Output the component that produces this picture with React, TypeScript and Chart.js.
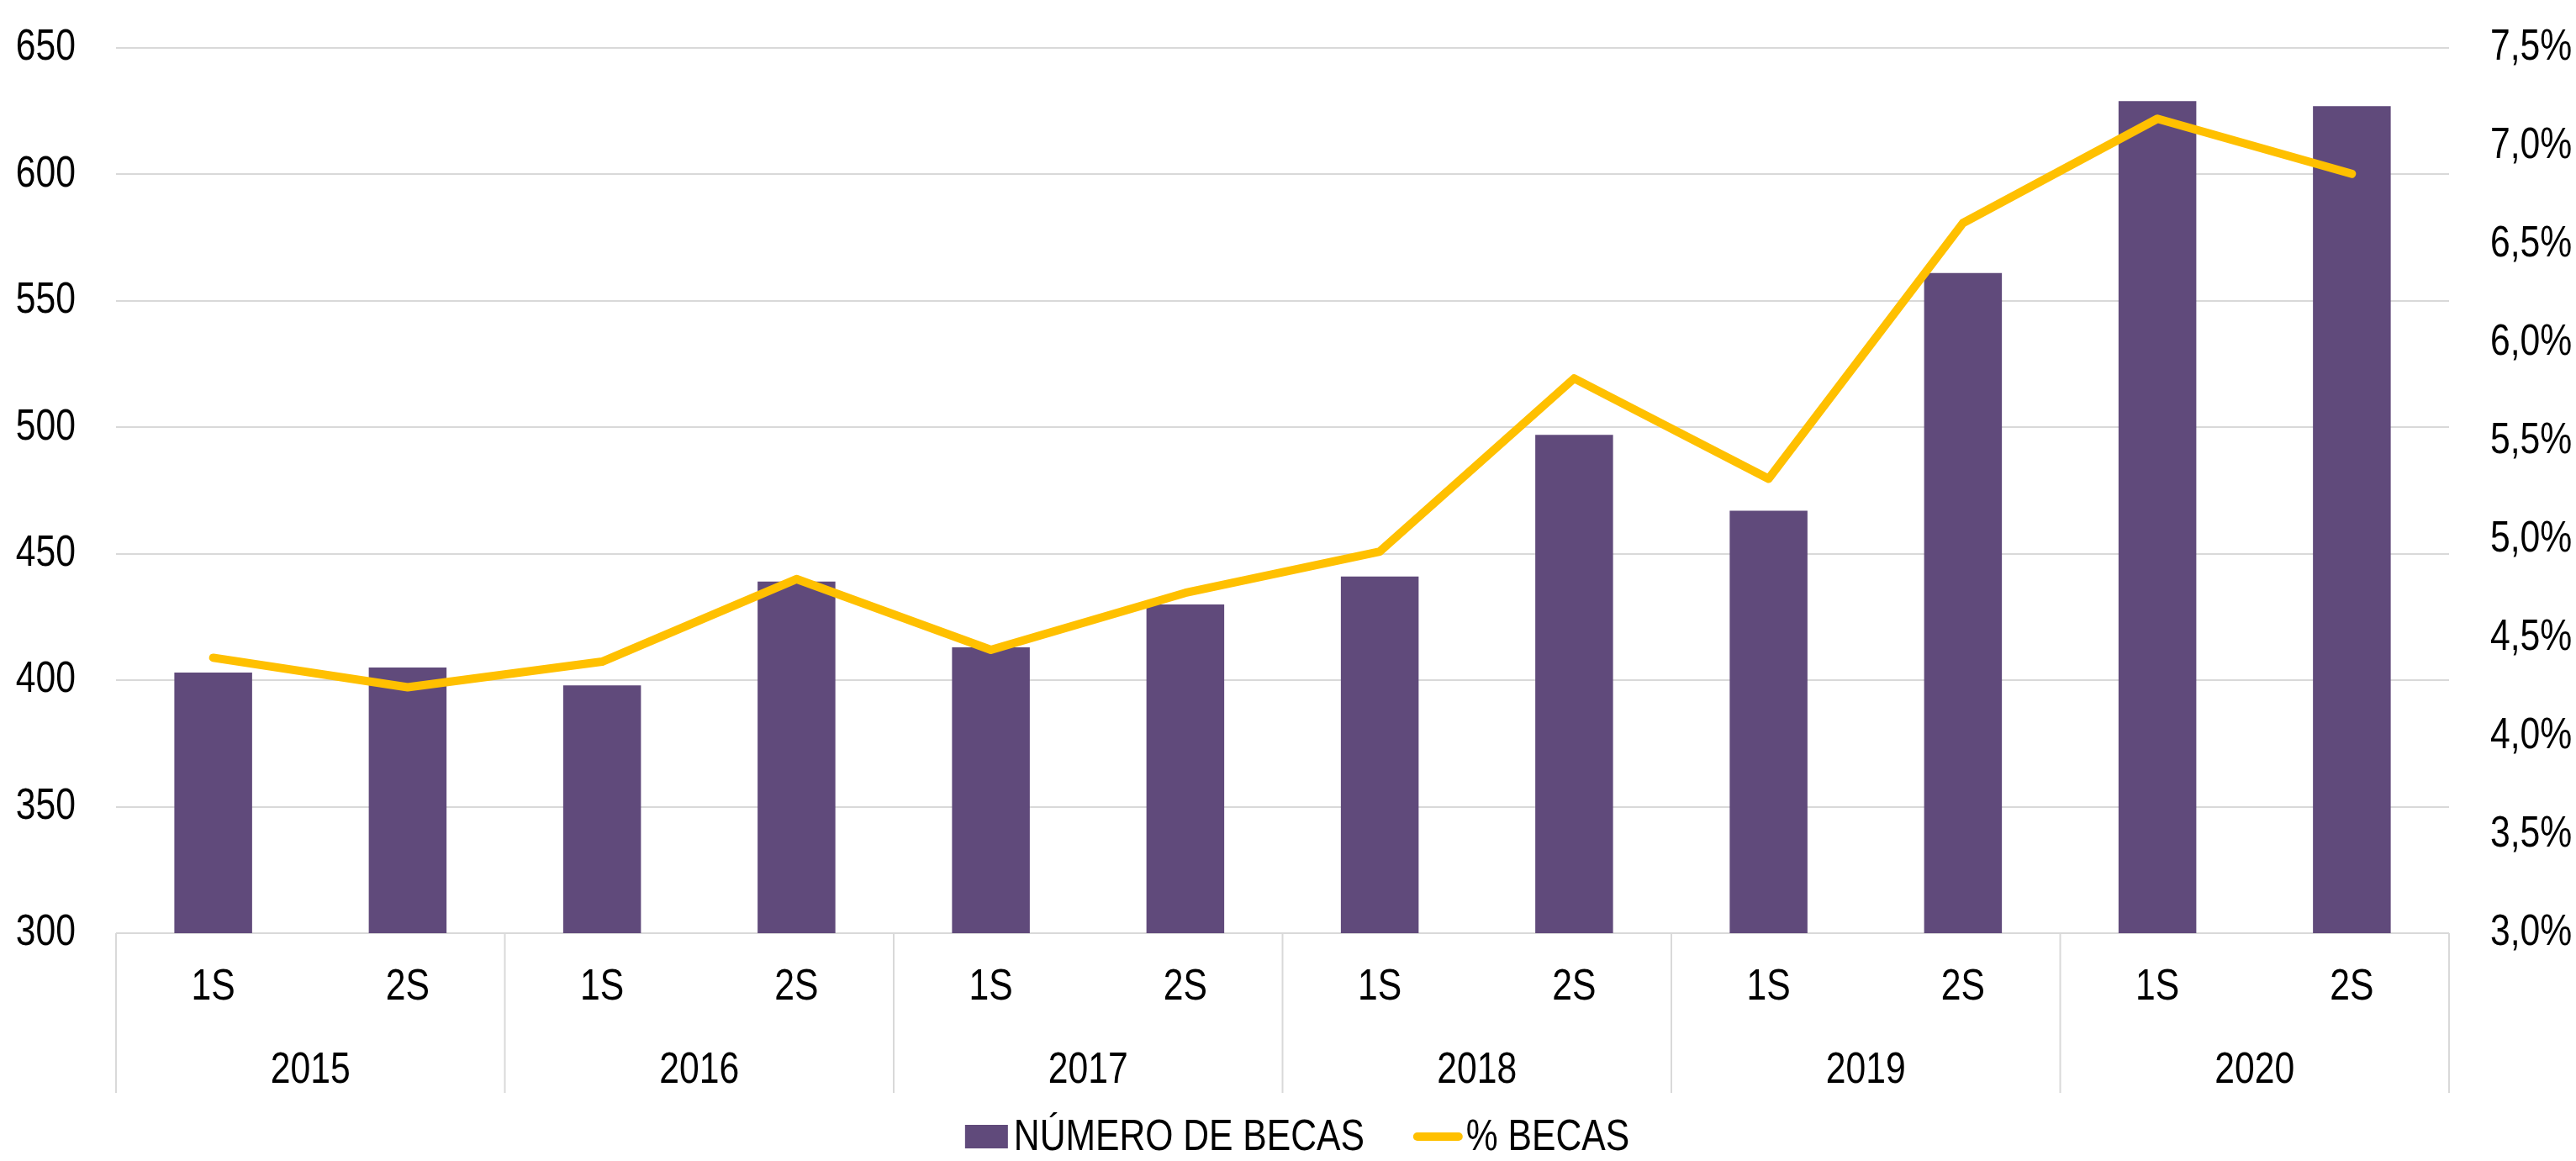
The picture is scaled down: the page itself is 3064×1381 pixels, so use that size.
import React, { useEffect, useRef } from 'react';
import { Chart, registerables } from 'chart.js';

Chart.register(...registerables);

const FONT = "'Liberation Sans Narrow', 'Arial Narrow', 'Liberation Sans', Arial, sans-serif";
const NARROW = 0.82; // horizontal condensation to mimic Arial Narrow

const YEARS = ['2015', '2016', '2017', '2018', '2019', '2020'];
const SEMESTERS = ['1S', '2S', '1S', '2S', '1S', '2S', '1S', '2S', '1S', '2S', '1S', '2S'];
const BECAS = [403, 405, 398, 439, 413, 430, 441, 497, 467, 561, 629, 627];
const PCT_BECAS = [4.4, 4.25, 4.38, 4.8, 4.44, 4.73, 4.94, 5.82, 5.31, 6.61, 7.14, 6.86];
const SERIES_NAMES = ['NÚMERO DE BECAS', '% BECAS'];

const BAR_COLOR = '#604A7B';
const LINE_COLOR = '#FFC000';
const GRID_COLOR = '#D9D9D9';

const W = 3064;
const H = 1381;

export default function App() {
  const ref = useRef<HTMLCanvasElement>(null);

  useEffect(() => {
    document.body.style.margin = '0';
    const canvas = ref.current!;
    const context = canvas.getContext('2d')!;
    const origFillText = context.fillText.bind(context);
    (context as any).fillText = (text: string, x: number, y: number) => {
      context.save();
      context.translate(x, y);
      context.scale(NARROW, 1);
      origFillText(text, 0, 0);
      context.restore();
    };

    const groupsAndLegend = {
      id: 'groupsAndLegend',
      afterDraw(chart: any) {
        const ctx = chart.ctx as CanvasRenderingContext2D;
        const x = chart.scales.x;
        const step = x.getPixelForTick(1) - x.getPixelForTick(0);
        ctx.save();
        // group separators
        ctx.strokeStyle = GRID_COLOR;
        ctx.lineWidth = 2;
        for (let g = 0; g <= YEARS.length; g++) {
          const px =
            g < YEARS.length
              ? x.getPixelForTick(2 * g) - step / 2
              : x.getPixelForTick(2 * g - 1) + step / 2;
          ctx.beginPath();
          ctx.moveTo(px, x.top);
          ctx.lineTo(px, x.top + 190);
          ctx.stroke();
        }
        // year labels
        ctx.font = `52px ${FONT}`;
        ctx.fillStyle = '#000000';
        ctx.textAlign = 'center';
        ctx.textBaseline = 'alphabetic';
        YEARS.forEach((yr, i) => {
          const cx = (x.getPixelForTick(2 * i) + x.getPixelForTick(2 * i + 1)) / 2;
          ctx.fillText(yr, cx, x.top + 178);
        });
        // legend
        ctx.textAlign = 'left';
        const w1 = ctx.measureText(SERIES_NAMES[0]).width * NARROW;
        const w2 = ctx.measureText(SERIES_NAMES[1]).width * NARROW;
        const total = 51 + 7 + w1 + 58 + 59 + 4 + w2;
        let lx = 1543 - total / 2;
        const baseY = 1368;
        ctx.fillStyle = BAR_COLOR;
        ctx.fillRect(lx, 1338, 51, 28);
        lx += 51 + 7;
        ctx.fillStyle = '#000000';
        ctx.fillText(SERIES_NAMES[0], lx, baseY);
        lx += w1 + 58;
        ctx.strokeStyle = LINE_COLOR;
        ctx.lineWidth = 10;
        ctx.lineCap = 'round';
        ctx.beginPath();
        ctx.moveTo(lx + 5, 1352);
        ctx.lineTo(lx + 54, 1352);
        ctx.stroke();
        lx += 59 + 4;
        ctx.fillText(SERIES_NAMES[1], lx, baseY);
        ctx.restore();
      },
    };

    const chart = new Chart(canvas, {
      type: 'bar',
      data: {
        labels: SEMESTERS,
        datasets: [
          {
            type: 'bar',
            label: SERIES_NAMES[0],
            data: BECAS,
            backgroundColor: BAR_COLOR,
            borderWidth: 0,
            yAxisID: 'y',
            order: 2,
            barPercentage: 0.4,
            categoryPercentage: 1,
          },
          {
            type: 'line',
            label: SERIES_NAMES[1],
            data: PCT_BECAS,
            borderColor: LINE_COLOR,
            backgroundColor: LINE_COLOR,
            borderWidth: 10,
            borderCapStyle: 'round',
            borderJoinStyle: 'round',
            pointRadius: 0,
            pointHoverRadius: 0,
            tension: 0,
            yAxisID: 'y1',
            order: 1,
          },
        ],
      },
      options: {
        responsive: false,
        animation: false,
        devicePixelRatio: 1,
        layout: { padding: { top: 57, bottom: 81, left: 0, right: 0 } },
        plugins: {
          legend: { display: false },
          tooltip: { enabled: false },
        },
        scales: {
          x: {
            type: 'category',
            grid: { display: false, drawTicks: false },
            border: { display: false },
            ticks: {
              color: '#000000',
              font: { family: FONT, size: 52 },
              padding: 33,
              maxRotation: 0,
              autoSkip: false,
            },
            afterFit(scale: any) {
              scale.height = 190;
            },
          },
          y: {
            type: 'linear',
            position: 'left',
            min: 300,
            max: 650,
            ticks: {
              stepSize: 50,
              color: '#000000',
              font: { family: FONT, size: 52 },
              padding: 48,
            },
            grid: { color: GRID_COLOR, lineWidth: 2, drawTicks: false },
            border: { display: false },
            afterFit(scale: any) {
              scale.width = 138;
              scale.paddingTop = 10;
              scale.paddingBottom = 10;
            },
          },
          y1: {
            type: 'linear',
            position: 'right',
            min: 3,
            max: 7.5,
            ticks: {
              stepSize: 0.5,
              color: '#000000',
              font: { family: FONT, size: 52 },
              padding: 49,
              callback: (v: any) => Number(v).toFixed(1).replace('.', ',') + '%',
            },
            grid: { display: false, drawTicks: false },
            border: { display: false },
            afterFit(scale: any) {
              scale.width = W - 2913;
              scale.paddingTop = 10;
              scale.paddingBottom = 10;
            },
          },
        },
      },
      plugins: [groupsAndLegend],
    });

    return () => {
      chart.destroy();
      (context as any).fillText = origFillText;
    };
  }, []);

  return (
    <div style={{ width: W, height: H, background: '#ffffff' }}>
      <canvas ref={ref} width={W} height={H} style={{ display: 'block', width: W, height: H }} />
    </div>
  );
}
